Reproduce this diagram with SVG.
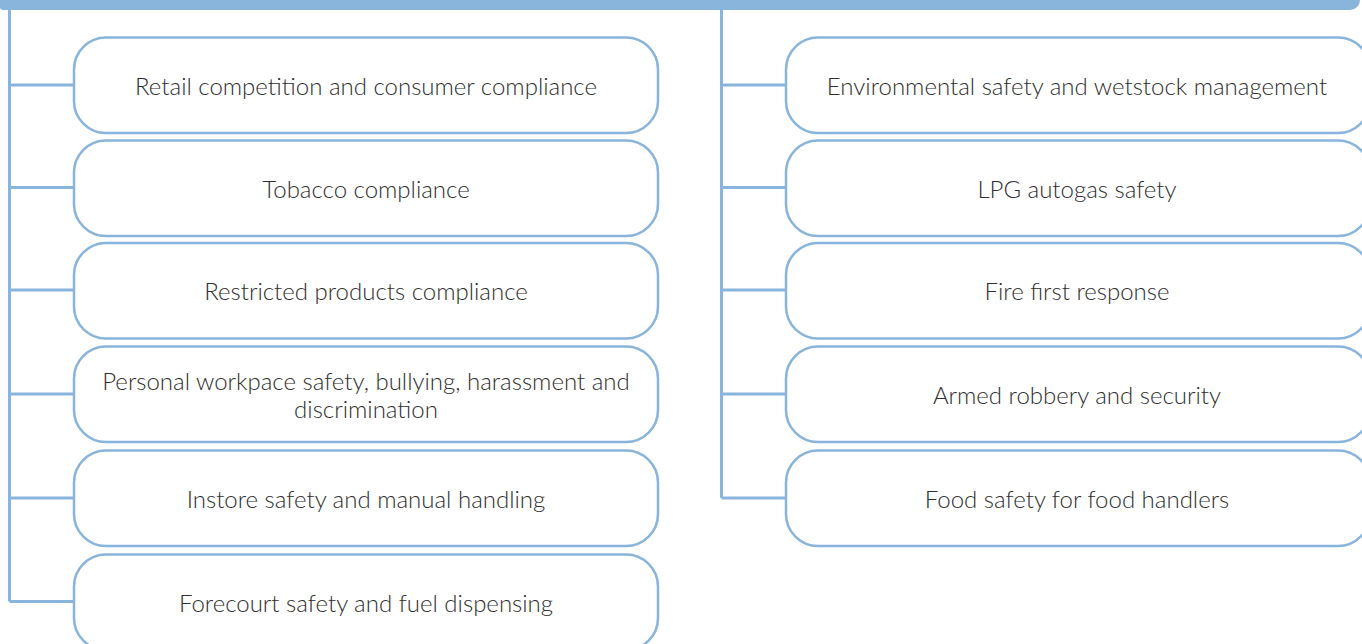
<svg xmlns="http://www.w3.org/2000/svg" width="1362" height="644" viewBox="0 0 1362 644">
<style>
.box{fill:#fff;stroke:#89b4dc;stroke-width:2.5}
.ln{fill:none;stroke:#89b4dc;stroke-width:3}
.t{font-family:Lato,"Liberation Sans",sans-serif;font-weight:300;font-size:24px;fill:#2e2e2e;text-anchor:middle}
</style>
<rect width="1362" height="644" fill="#fff"/>
<g id="connectors">
<path class="ln" d="M9.5,8 V601.5 M9.5,85 H74 M9.5,187.5 H74 M9.5,290 H74 M9.5,394 H74 M9.5,498 H74 M9.5,601.5 H74"/>
<path class="ln" d="M721.5,8 V498 M721.5,85 H786 M721.5,187.5 H786 M721.5,290 H786 M721.5,394 H786 M721.5,498 H786"/>
</g>
<g id="topbar"><path d="M0,-10 H1350 A10,10 0 0 1 1360,0 A10,10 0 0 1 1350,10 H3 A3,3 0 0 1 0,7 Z" fill="#89b4dc"/></g>
<g id="n1"><rect class="box" x="74" y="37.5" width="584" height="95.5" rx="32"/><text class="t" x="366" y="95">Retail competition and consumer compliance</text></g>
<g id="n2"><rect class="box" x="74" y="140.5" width="584" height="95.5" rx="32"/><text class="t" x="366" y="198">Tobacco compliance</text></g>
<g id="n3"><rect class="box" x="74" y="243" width="584" height="95.5" rx="32"/><text class="t" x="366" y="300">Restricted products compliance</text></g>
<g id="n4"><rect class="box" x="74" y="346.5" width="584" height="95.5" rx="32"/><text class="t" x="366" y="390">Personal workpace safety, bullying, harassment and</text><text class="t" x="366" y="418">discrimination</text></g>
<g id="n5"><rect class="box" x="74" y="450.5" width="584" height="95.5" rx="32"/><text class="t" x="366" y="508">Instore safety and manual handling</text></g>
<g id="n6"><rect class="box" x="74" y="554.5" width="584" height="95.5" rx="32"/><text class="t" x="366" y="612">Forecourt safety and fuel dispensing</text></g>
<g id="n7"><rect class="box" x="786" y="37.5" width="584" height="95.5" rx="32"/><text class="t" x="1077" y="95">Environmental safety and wetstock management</text></g>
<g id="n8"><rect class="box" x="786" y="140.5" width="584" height="95.5" rx="32"/><text class="t" x="1077" y="198">LPG autogas safety</text></g>
<g id="n9"><rect class="box" x="786" y="243" width="584" height="95.5" rx="32"/><text class="t" x="1077" y="300">Fire first response</text></g>
<g id="n10"><rect class="box" x="786" y="346.5" width="584" height="95.5" rx="32"/><text class="t" x="1077" y="404">Armed robbery and security</text></g>
<g id="n11"><rect class="box" x="786" y="450.5" width="584" height="95.5" rx="32"/><text class="t" x="1077" y="508">Food safety for food handlers</text></g>
</svg>
